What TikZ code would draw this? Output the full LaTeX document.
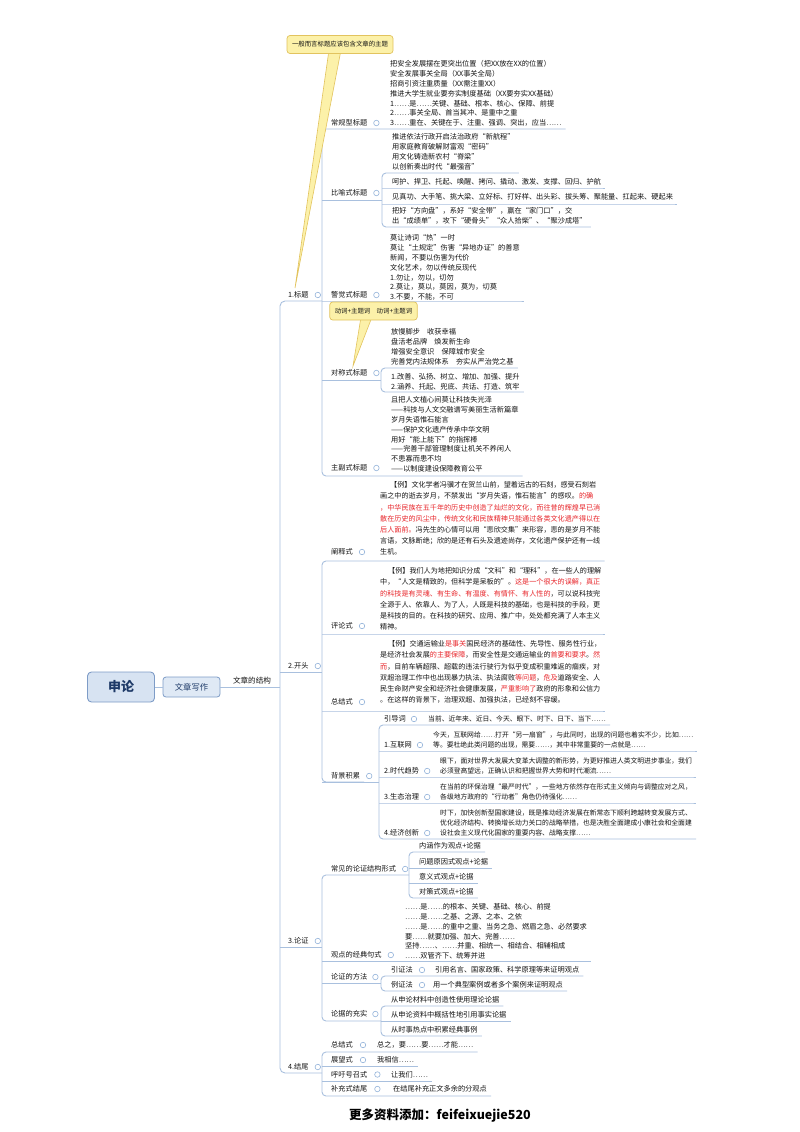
\documentclass[tikz,border=0pt]{standalone}
\usepackage{fontspec}
\setmainfont{Noto Sans CJK SC}
\definecolor{ln}{HTML}{A9C0DE}
\definecolor{circ}{HTML}{93B3DA}
\definecolor{txt}{HTML}{141414}
\definecolor{redt}{HTML}{E8262B}
\definecolor{cfill}{HTML}{FCF1A9}
\definecolor{cdraw}{HTML}{E2C35E}
\definecolor{rootfill}{HTML}{D7E3F2}
\definecolor{rootdraw}{HTML}{7E9CC7}
\definecolor{navy}{HTML}{1E3A68}
\newcommand\fsA{\fontsize{7.2}{9.8}\selectfont}
\newcommand\fsB{\fontsize{6.8}{10}\selectfont}
\newcommand\fsD{\fontsize{7.2}{10}\selectfont}
\newcommand\fsP{\fontsize{7.1}{11.2}\selectfont}
\newcommand\fsC{\fontsize{6.4}{7.5}\selectfont}
\newcommand\ulto[3]{\draw[conn] (#1,#2) -- (#3.east |- 0,#2) -- ++(4,0);}
\newcommand\brk[5]{\draw[conn, rounded corners=4] (#4.east |- 0,#2) ++(4,0) -- (#1,#2) -- (#1,#3) -- (#5.east |- 0,#3) -- ++(4,0);}
\newcommand\rd[1]{\textcolor{redt}{#1}}
\begin{document}
\begin{tikzpicture}[x=1pt,y=-1pt,
  conn/.style={draw=ln, line width=0.9pt},
  lbl/.style={anchor=west, inner sep=0, font=\fsA, text=txt},
  lblb/.style={anchor=west, inner sep=0, font=\fsB, text=txt},
  blk/.style={anchor=north west, align=left, inner sep=0, font=\fsA, text=txt},
  blkb/.style={anchor=north west, align=left, inner sep=0, font=\fsB, text=txt},
  blkd/.style={anchor=north west, align=left, inner sep=0, font=\fsD, text=txt},
  para/.style={anchor=north west, align=left, inner sep=0, font=\fsP, text=txt},
  dot/.style={circle, draw=circ, fill=white, line width=0.6pt, minimum size=5.5pt, inner sep=0},
  cbox/.style={draw=cdraw, fill=cfill, rounded corners=3, line width=0.7pt, font=\fsC, text=txt, inner xsep=5pt, inner ysep=3pt, minimum height=18pt},
  rootbox/.style={draw=rootdraw, fill=rootfill, rounded corners=4, line width=0.9pt, minimum width=67pt, minimum height=30pt, font=\fontsize{13}{13}\bfseries\selectfont, text=navy},
  wzbox/.style={draw=rootdraw, fill=rootfill!80!white, rounded corners=3, line width=0.8pt, minimum width=57pt, minimum height=20pt, font=\fontsize{8.3}{9}\selectfont, text=navy}]
\fill[white] (0,0) rectangle (800,1132);
\path[use as bounding box] (0,0) rectangle (800,1132);

% ---------- root ----------
\node[rootbox] (root) at (121,687) {申论};
\node[wzbox] (wz) at (191.5,687) {文章写作};
\node[anchor=south, inner sep=0, font=\fontsize{7.6}{8}\selectfont, text=txt] (jg) at (252,684) {文章的结构};
\draw[conn] (root.east) -- (wz.west);
\draw[conn] (wz.east) -- (280,687);
\draw[conn, rounded corners=5] (322,301) -- (280,301) -- (280,1073) -- (322,1073);
\draw[conn] (280,672) -- (322,672);
\draw[conn] (280,947) -- (322,947);

% ---------- level 1 ----------
\node[lbl] (l1) at (288,295) {1.标题};
\node[lbl] (l2) at (288,666) {2.开头};
\node[lbl] (l3) at (288,941) {3.论证};
\node[lbl] (l4) at (288,1067) {4.结尾};

% ---------- 1.标题 ----------
\node[lbl] (cg) at (331,123) {常规型标题};
\node[blk] (cgt) at (390,60.5) {把安全发展摆在更突出位置（把XX放在XX的位置）\\
安全发展事关全局（XX事关全局）\\
招商引资注重质量（XX需注重XX）\\
推进大学生就业要夯实制度基础（XX要夯实XX基础）\\
1……是……关键、基础、根本、核心、保障、前提\\
2……事关全局、首当其冲、是重中之重\\
3……重在、关键在于、注重、强调、突出，应当……};

\node[lbl] (by) at (331,193) {比喻式标题};
\node[blk] (by1) at (392,133.5) {推进依法行政开启法治政府“新航程”\\
用家庭教育破解财富观“密码”\\
用文化铸造新农村“脊梁”\\
以创新奏出时代“最强音”};
\node[lbl] (by2) at (392,182) {呵护、捍卫、托起、唤醒、拷问、撬动、激发、支撑、回归、护航};
\node[lbl] (by3) at (392,196.5) {见真功、大手笔、挑大梁、立好标、打好样、出头彩、拔头筹、聚能量、扛起来、硬起来};
\node[blk] (by4) at (392,207.5) {把好“方向盘”，系好“安全带”，赢在“家门口”，交\\
出“成绩单”，攻下“硬骨头”“众人拾柴”、“聚沙成塔”};

\node[lbl] (jj) at (331,295) {警觉式标题};
\node[blk] (jjt) at (390,234.5) {莫让诗词“热”一时\\
莫让“土规定”伤害“异地办证”的善意\\
新闻，不要以伤害为代价\\
文化艺术，勿以传统反现代\\
1.勿让，勿以，切勿\\
2.莫让，莫以，莫因，莫为，切莫\\
3.不要，不能，不可};

\node[lbl] (dc) at (331,373) {对称式标题};
\node[blkd] (dc1) at (391,328.5) {放慢脚步　收获幸福\\
盘活老品牌　焕发新生命\\
增强安全意识　保障城市安全\\
完善党内法规体系　夯实从严治党之基};
\node[blk] (dc2) at (391,373.5) {1.改善、弘扬、树立、增加、加强、提升\\
2.涵养、托起、兜底、共话、打造、筑牢};

\node[lbl] (zf) at (331,468) {主副式标题};
\node[blk] (zft) at (391,396.5) {且把人文植心间莫让科技失光泽\\
——科技与人文交融谱写美丽生活新篇章\\
岁月失语惟石能言\\
——保护文化遗产传承中华文明\\
用好“能上能下”的指挥棒\\
——完善干部管理制度让机关不养闲人\\
不患寡而患不均\\
——以制度建设保障教育公平};

% connectors of 1.标题
\brk{322}{129}{476}{cgt}{zft}
\draw[conn] (322,200) -- (382,200);
\ulto{322}{301}{jjt}
\draw[conn] (322,380) -- (381,380);
\brk{382}{173}{227}{by1}{by4}
\ulto{382}{188}{by2}
\ulto{382}{204}{by3}
\brk{381}{368}{392}{dc1}{dc2}

% ---------- 2.开头 ----------
\node[lbl] (cs) at (331,552) {阐释式};
\node[para] (p1) at (380,481.5) {\hspace*{10pt}【例】文化学者冯骥才在贺兰山前，望着远古的石刻，感受石刻岩\\
画之中的逝去岁月，不禁发出“岁月失语，惟石能言”的感叹。\rd{的确}\\
\rd{，中华民族在五千年的历史中创造了灿烂的文化，而往昔的辉煌早已消}\\
\rd{散在历史的风尘中，传统文化和民族精神只能通过各类文化遗产得以在}\\
\rd{后人面前。}冯先生的心情可以用“悲欣交集”来形容，悲的是岁月不能\\
言语，文脉断绝；欣的是还有石头及遗迹尚存，文化遗产保护还有一线\\
生机。};

\node[lbl] (pl) at (331,626) {评论式};
\node[para] (p2) at (380,567.5) {\hspace*{8pt}【例】我们人为地把知识分成“文科”和“理科”，在一些人的理解\\
中，“人文是精致的，但科学是呆板的”。\rd{这是一个很大的误解，真正}\\
\rd{的科技是有灵魂、有生命、有温度、有情怀、有人性的}，可以说科技完\\
全源于人、依靠人、为了人，人既是科技的基础，也是科技的手段，更\\
是科技的目的。在科技的研究、应用、推广中，处处都充满了人本主义\\
精神。};

\node[lbl] (zj) at (331,702) {总结式};
\node[para] (p3) at (380,640.5) {\hspace*{8pt}【例】交通运输业\rd{是事关}国民经济的基础性、先导性、服务性行业，\\
是经济社会发展\rd{的主要保障}，而安全性是交通运输业的\rd{首要和要求}。\rd{然}\\
\rd{而}，目前车辆超限、超载的违法行驶行为似乎变成积重难返的痼疾，对\\
双超治理工作中也出现暴力执法、执法腐败\rd{等问题}，\rd{危及}道路安全、人\\
民生命财产安全和经济社会健康发展，\rd{严重影响了}政府的形象和公信力\\
。在这样的背景下，治理双超、加强执法，已经刻不容缓。};

\node[lbl] (bj) at (331,776) {背景积累};
\node[lbl] (yd) at (384,719) {引导词};
\node[lblb] (ydt) at (428,719) {当前、近年来、近日、今天、眼下、时下、日下、当下……};
\node[lbl] (hl) at (384,745) {1.互联网};
\node[blkb] (hlt) at (433,731.7) {今天，互联网给……打开“另一扇窗”，与此同时，出现的问题也着实不少，比如……\\
等。要杜绝此类问题的出现，需要……，其中非常重要的一点就是……};
\node[lbl] (sd) at (384,771) {2.时代趋势};
\node[blkb] (sdt) at (440,757.7) {眼下，面对世界大发展大变革大调整的新形势，为更好推进人类文明进步事业，我们\\
必须登高望远，正确认识和把握世界大势和时代潮流……};
\node[lbl] (st) at (384,797) {3.生态治理};
\node[blkb] (stt) at (440,783.7) {在当前的环保治理“最严时代”，一些地方依然存在形式主义倾向与调整应对之风，\\
各级地方政府的“行动者”角色仍待强化……};
\node[lbl] (jc) at (384,833) {4.经济创新};
\node[blkb] (jct) at (440,809.7) {时下，加快创新型国家建设，既是推动经济发展在新常态下顺利跨越转变发展方式、\\
优化经济结构、转换增长动力关口的战略举措，也是决胜全面建成小康社会和全面建\\
设社会主义现代化国家的重要内容、战略支撑……};

% connectors of 2.开头
\brk{322}{561}{782}{p1}{bj}
\ulto{322}{634}{p2}
\ulto{322}{711}{p3}
\draw[conn] (322,782) -- (379,782);
\brk{379}{725}{839}{ydt}{jct}
\ulto{379}{751}{hlt}
\ulto{379}{777}{sdt}
\ulto{379}{803}{stt}

% ---------- 3.论证 ----------
\node[lbl] (cj) at (331,869) {常见的论证结构形式};
\node[lbl] (cj1) at (419,846) {内涵作为观点+论据};
\node[lbl] (cj2) at (419,862) {问题原因式观点+论据};
\node[lbl] (cj3) at (419,877) {意义式观点+论据};
\node[lbl] (cj4) at (419,892) {对策式观点+论据};
\node[lbl] (gd) at (331,955) {观点的经典句式};
\node[blk] (gdt) at (405,903.5) {……是……的根本、关键、基础、核心、前提\\
……是……之基、之源、之本、之依\\
……是……的重中之重、当务之急、燃眉之急、必然要求\\
要……就要加强、加大、完善……\\
坚持……、……并重、相统一、相结合、相辅相成\\
……双管齐下、统筹并进};
\node[lbl] (ff) at (331,977) {论证的方法};
\node[lbl] (yz) at (391,970) {引证法};
\node[lbl] (yzt) at (435,970) {引用名言、国家政策、科学原理等来证明观点};
\node[lbl] (lz) at (391,985) {例证法};
\node[lbl] (lzt) at (433,985) {用一个典型案例或者多个案例来证明观点};
\node[lbl] (cs2) at (331,1014) {论据的充实};
\node[lbl] (cs21) at (391,1000) {从申论材料中创造性使用理论论据};
\node[lbl] (cs22) at (391,1014.5) {从申论资料中概括性地引用事实论据};
\node[lbl] (cs23) at (391,1030) {从时事热点中积累经典事例};

% connectors of 3.论证
\draw[conn, rounded corners=4] (409,875) -- (322,875) -- (322,1021) -- (381,1021);
\ulto{322}{961}{gdt}
\draw[conn] (322,983) -- (381,983);
\brk{409}{852}{898}{cj1}{cj4}
\ulto{409}{868}{cj2}
\ulto{409}{883}{cj3}
\brk{381}{976}{991}{yzt}{lzt}
\brk{381}{1006}{1036}{cs21}{cs23}
\ulto{381}{1021}{cs22}

% ---------- 4.结尾 ----------
\node[lbl] (jw1) at (331,1045) {总结式};
\node[lbl] (jw1t) at (377,1045) {总之，要……要……才能……};
\node[lbl] (jw2) at (331,1060) {展望式};
\node[lbl] (jw2t) at (377,1060) {我相信……};
\node[lbl] (jw3) at (331,1074.5) {呼吁号召式};
\node[lbl] (jw3t) at (391,1074.5) {让我们……};
\node[lbl] (jw4) at (331,1089) {补充式结尾};
\node[lbl] (jw4t) at (393,1089) {在结尾补充正文多余的分观点};
\brk{322}{1052}{1096}{jw1t}{jw4t}
\ulto{322}{1066}{jw2t}
\ulto{322}{1081}{jw3t}

% ---------- collapse dots ----------
\foreach \n/\dx in {l1/9,l2/9,l3/9,l4/9,cg/9,by/9,jj/9,dc/9,zf/9,cs/9,pl/9,zj/9,bj/9,yd/8,hl/8,sd/8,st/8,jc/8,cj/9,gd/9,ff/8,yz/9,lz/9,cs2/8,jw1/10,jw2/10,jw3/10,jw4/10}
  \node[dot] at ([xshift=\dx pt]\n.east) {};

% ---------- callouts ----------
\filldraw[fill=cfill, draw=cdraw, line width=0.6pt] (329,50) -- (295,288) -- (341,50) -- cycle;
\node[cbox] (cb1) at (340,44.5) {一般而言标题应该包含文章的主题};
\filldraw[fill=cfill, draw=cdraw, line width=0.6pt] (361,317) -- (353,366) -- (372,317) -- cycle;
\node[cbox] (cb2) at (373.5,311) {动词+主题词　动词+主题词};

% ---------- footer ----------
\node[font=\fontsize{12.5}{13}\bfseries\selectfont, text=black] (ft) at (440,1115) {更多资料添加：feifeixuejie520};
\end{tikzpicture}
\end{document}
